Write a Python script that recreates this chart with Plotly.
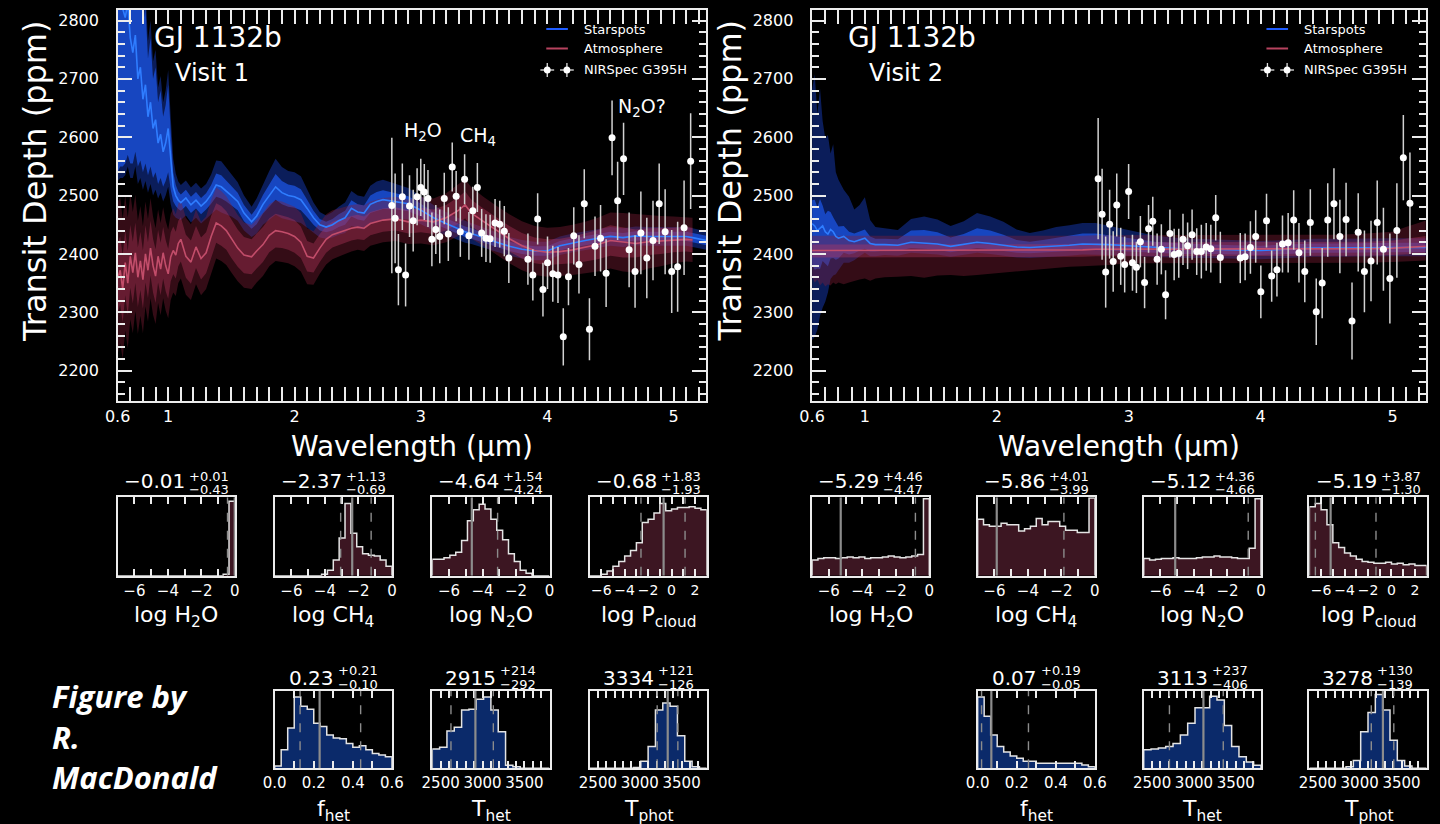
import plotly.graph_objects as go

W, H = 1440, 824
FONT = "DejaVu Sans"
WHITE = "#ececec"

# ---------------- NIRSpec G395H transmission spectra ----------------
WL_V1 = [2.770, 2.796, 2.822, 2.853, 2.879, 2.910, 2.939, 2.970, 2.999, 3.027,
         3.056, 3.087, 3.118, 3.149, 3.185, 3.217, 3.248, 3.279, 3.312, 3.346,
         3.380, 3.411, 3.447, 3.481, 3.515, 3.548, 3.587, 3.624, 3.660, 3.696,
         3.847, 3.886, 3.924, 3.966, 4.002, 4.044, 4.085, 4.127, 4.168, 4.210,
         4.251, 4.293, 4.334, 4.378, 4.422, 4.466, 4.513, 4.557, 4.604, 4.648,
         4.695, 4.741, 4.788, 4.837, 4.886, 4.933, 4.985, 5.032, 5.083, 5.135]
DEPTH_V1 = [2483, 2461, 2373, 2498, 2364, 2482, 2457, 2498, 2514, 2506,
            2495, 2425, 2442, 2430, 2495, 2434, 2549, 2499, 2438, 2528,
            2431, 2474, 2514, 2436, 2427, 2426, 2453, 2451, 2439, 2393,
            2391, 2364, 2460, 2339, 2385, 2366, 2364, 2258, 2361, 2431,
            2382, 2486, 2271, 2413, 2427, 2367, 2599, 2491, 2563, 2407,
            2370, 2436, 2393, 2423, 2486, 2438, 2370, 2378, 2445, 2559]
ERR_V1 = [116, 77, 61, 57, 54, 53, 53, 49, 49, 48,
          49, 46, 42, 46, 44, 46, 42, 43, 43, 43,
          41, 41, 42, 41, 41, 41, 41, 40, 43, 43,
          44, 44, 44, 46, 45, 48, 48, 49, 49, 49,
          50, 59, 53, 51, 57, 58, 64, 67, 62, 64,
          62, 71, 69, 68, 69, 73, 71, 77, 81, 82]

WL_V2 = [2.768, 2.798, 2.825, 2.855, 2.882, 2.909, 2.939, 2.969, 2.999, 3.028,
         3.058, 3.088, 3.120, 3.150, 3.182, 3.215, 3.247, 3.279, 3.312, 3.344,
         3.379, 3.411, 3.446, 3.480, 3.515, 3.550, 3.587, 3.622, 3.659, 3.694,
         3.845, 3.882, 3.922, 3.962, 4.001, 4.044, 4.083, 4.123, 4.165, 4.208,
         4.250, 4.290, 4.334, 4.376, 4.421, 4.466, 4.508, 4.555, 4.600, 4.647,
         4.692, 4.739, 4.786, 4.836, 4.883, 4.930, 4.979, 5.032, 5.081, 5.131]
DEPTH_V2 = [2529, 2468, 2369, 2451, 2387, 2484, 2396, 2382, 2507, 2385,
            2377, 2421, 2351, 2443, 2456, 2391, 2408, 2330, 2435, 2399,
            2401, 2425, 2414, 2433, 2404, 2404, 2412, 2409, 2462, 2394,
            2393, 2395, 2411, 2430, 2335, 2457, 2362, 2373, 2417, 2419,
            2458, 2402, 2370, 2454, 2301, 2350, 2458, 2486, 2430, 2459,
            2285, 2437, 2370, 2388, 2454, 2408, 2358, 2440, 2565, 2487]
ERR_V2 = [104, 78, 61, 59, 52, 54, 49, 48, 47, 48,
          44, 44, 44, 41, 42, 44, 43, 42, 41, 44,
          42, 44, 40, 43, 40, 46, 41, 41, 39, 44,
          43, 40, 45, 45, 45, 46, 44, 46, 49, 51,
          51, 51, 53, 57, 57, 60, 63, 61, 63, 63,
          66, 67, 70, 69, 72, 71, 77, 81, 73, 87]

# ---------------- retrieved model spectra: visit 1 ----------------
MODEL_WL_V1 = [0.60, 0.62, 0.64, 0.66, 0.68, 0.70, 0.72, 0.74, 0.76, 0.78,
               0.80, 0.82, 0.84, 0.86, 0.88, 0.90, 0.92, 0.94, 0.96, 0.98,
               1.00, 1.02, 1.04, 1.06, 1.08, 1.10, 1.14, 1.18, 1.22, 1.26,
               1.30, 1.34, 1.38, 1.42, 1.46, 1.50, 1.55, 1.60, 1.66, 1.70,
               1.75, 1.80, 1.85, 1.90, 1.95, 2.00, 2.05, 2.10, 2.15, 2.20,
               2.25, 2.30, 2.35, 2.40, 2.45, 2.50, 2.55, 2.60, 2.65, 2.70,
               2.80, 2.90, 3.00, 3.10, 3.20, 3.30, 3.35, 3.40, 3.50, 3.60,
               3.70, 3.80, 3.90, 4.00, 4.10, 4.20, 4.30, 4.40, 4.50, 4.60,
               4.70, 4.80, 4.90, 5.00, 5.10, 5.15, 5.20, 5.26]
SPOT_MED_V1 = [2870, 2850, 2820, 2805, 2830, 2770, 2745, 2775, 2700, 2720,
               2665, 2690, 2635, 2660, 2615, 2630, 2590, 2605, 2575, 2590,
               2615, 2560, 2515, 2500, 2492, 2488, 2496, 2484, 2492, 2482,
               2490, 2502, 2518, 2515, 2508, 2500, 2490, 2470, 2455, 2465,
               2485, 2500, 2515, 2505, 2500, 2498, 2493, 2478, 2462, 2450,
               2446, 2450, 2457, 2462, 2478, 2472, 2470, 2485, 2490, 2493,
               2490, 2486, 2475, 2462, 2452, 2442, 2438, 2435, 2427, 2420,
               2413, 2408, 2405, 2405, 2414, 2419, 2423, 2427, 2430, 2428,
               2431, 2430, 2430, 2431, 2430, 2428, 2426, 2423]
SPOT_S1_V1 = [330, 300, 270, 250, 260, 215, 190, 200, 150, 160,
              125, 135, 100, 110, 85, 90, 70, 75, 60, 65,
              75, 50, 25, 18, 15, 14, 14, 14, 14, 14,
              14, 16, 20, 20, 18, 16, 15, 14, 12, 14,
              16, 19, 22, 20, 19, 19, 18, 15, 12, 10,
              9, 10, 11, 12, 14, 13, 13, 15, 16, 16,
              14, 13, 11, 10, 9, 9, 9, 9, 8, 8,
              8, 8, 8, 8, 8, 8, 8, 8, 8, 8,
              8, 8, 8, 8, 8, 8, 8, 8]
SPOT_S2_V1 = [345, 320, 290, 270, 280, 240, 215, 225, 180, 190,
              155, 165, 130, 140, 115, 120, 95, 100, 85, 90,
              100, 75, 48, 38, 32, 30, 30, 30, 30, 30,
              30, 34, 42, 44, 40, 36, 33, 30, 26, 30,
              35, 42, 48, 44, 42, 42, 40, 33, 26, 22,
              20, 22, 24, 26, 30, 28, 28, 32, 34, 34,
              30, 27, 24, 22, 20, 19, 19, 18, 17, 17,
              16, 16, 16, 16, 16, 16, 16, 16, 16, 16,
              16, 16, 16, 16, 16, 16, 16, 16]
# atmosphere model ends at 5.15 um
ATM_MED_V1 = [2358, 2372, 2340, 2385, 2350, 2396, 2368, 2402, 2360, 2388,
              2356, 2400, 2372, 2410, 2380, 2362, 2396, 2374, 2402, 2380,
              2366, 2395, 2406, 2398, 2418, 2425, 2396, 2386, 2412, 2392,
              2402, 2430, 2453, 2448, 2440, 2426, 2410, 2398, 2395, 2405,
              2416, 2432, 2440, 2438, 2435, 2430, 2420, 2396, 2393, 2410,
              2425, 2433, 2437, 2440, 2444, 2446, 2444, 2452, 2455, 2458,
              2460, 2455, 2458, 2455, 2462, 2475, 2484, 2470, 2455, 2440,
              2426, 2414, 2406, 2403, 2404, 2407, 2411, 2416, 2423, 2420,
              2418, 2421, 2422, 2424, 2425, 2424]
ATM_S1_V1 = [60, 58, 57, 56, 55, 54, 53, 52, 51, 50,
             50, 49, 48, 47, 46, 46, 45, 45, 44, 44,
             43, 42, 41, 40, 39, 38, 37, 37, 36, 36,
             35, 35, 34, 34, 33, 33, 32, 31, 30, 30,
             30, 29, 29, 28, 28, 28, 27, 26, 25, 24,
             23, 22, 22, 21, 21, 21, 20, 20, 20, 20,
             20, 20, 21, 21, 22, 23, 23, 23, 22, 22,
             22, 22, 22, 22, 22, 23, 24, 25, 26, 26,
             24, 23, 22, 21, 21, 21]
ATM_S2_V1 = [130, 125, 120, 116, 112, 108, 104, 100, 97, 94,
             92, 90, 88, 86, 84, 82, 80, 79, 78, 77,
             76, 74, 72, 70, 68, 67, 66, 65, 64, 63,
             62, 62, 61, 60, 59, 58, 57, 56, 55, 54,
             54, 53, 52, 52, 51, 51, 50, 48, 46, 44,
             43, 42, 41, 40, 40, 39, 39, 38, 38, 38,
             38, 38, 40, 40, 42, 44, 44, 44, 42, 42,
             42, 42, 42, 42, 42, 43, 44, 46, 48, 50,
             50, 46, 43, 40, 38, 38]

# ---------------- retrieved model spectra: visit 2 ----------------
MODEL_WL_V2 = [0.60, 0.62, 0.64, 0.66, 0.68, 0.70, 0.72, 0.74, 0.76, 0.78,
               0.80, 0.84, 0.88, 0.92, 0.96, 1.00, 1.04, 1.08, 1.15, 1.25,
               1.35, 1.45, 1.55, 1.65, 1.75, 1.85, 1.95, 2.05, 2.15, 2.25,
               2.35, 2.45, 2.55, 2.65, 2.75, 2.85, 3.00, 3.20, 3.40, 3.60,
               3.80, 4.00, 4.20, 4.40, 4.60, 4.80, 5.00, 5.10, 5.26]
SPOT_MED_V2 = [2452, 2448, 2440, 2444, 2448, 2438, 2434, 2442, 2438, 2430,
               2427, 2430, 2423, 2421, 2424, 2427, 2418, 2416, 2416, 2415,
               2420, 2419, 2417, 2413, 2416, 2420, 2418, 2415, 2412, 2411,
               2412, 2414, 2415, 2417, 2417, 2416, 2414, 2411, 2409, 2408,
               2407, 2406, 2408, 2410, 2410, 2411, 2411, 2411, 2411]
SPOT_UP1_V2 = [40, 45, 40, 50, 35, 30, 40, 30, 25, 25,
               20, 18, 15, 14, 14, 15, 12, 10, 10, 10,
               20, 22, 20, 15, 18, 24, 22, 18, 12, 10,
               12, 14, 16, 18, 18, 16, 13, 10, 9, 8,
               8, 8, 8, 8, 8, 8, 8, 8, 8]
SPOT_DN1_V2 = [70, 75, 65, 70, 60, 55, 55, 50, 45, 40,
               35, 28, 24, 20, 18, 18, 14, 12, 10, 10,
               10, 10, 10, 10, 10, 10, 10, 10, 10, 10,
               10, 10, 10, 10, 10, 10, 10, 9, 9, 8,
               8, 8, 8, 8, 8, 8, 8, 8, 8]
SPOT_UP2_V2 = [230, 260, 200, 240, 180, 160, 170, 130, 150, 110,
               100, 80, 75, 55, 60, 70, 40, 30, 28, 26,
               40, 45, 42, 35, 40, 50, 46, 40, 30, 25,
               28, 32, 34, 36, 36, 32, 26, 20, 18, 17,
               16, 16, 16, 16, 16, 16, 16, 16, 16]
SPOT_DN2_V2 = [200, 190, 170, 150, 140, 120, 100, 85, 75, 65,
               55, 45, 38, 32, 28, 25, 22, 20, 18, 18,
               18, 18, 18, 18, 18, 18, 18, 18, 18, 18,
               18, 18, 18, 18, 18, 18, 17, 16, 16, 15,
               15, 15, 15, 15, 15, 15, 15, 15, 15]
ATM_MED_V2 = [2406, 2406, 2406, 2406, 2406, 2406, 2406, 2406, 2406, 2406,
              2406, 2406, 2406, 2406, 2406, 2406, 2406, 2406, 2406, 2406,
              2406, 2406, 2406, 2406, 2406, 2406, 2406, 2406, 2406, 2407,
              2407, 2407, 2407, 2407, 2408, 2408, 2408, 2408, 2408, 2408,
              2408, 2408, 2408, 2408, 2408, 2409, 2410, 2411, 2413]
ATM_UP1_V2 = [10, 10, 10, 10, 10, 10, 10, 10, 10, 10,
              10, 10, 10, 10, 10, 10, 10, 10, 10, 10,
              10, 10, 10, 10, 10, 10, 10, 10, 10, 10,
              10, 10, 10, 10, 10, 10, 12, 12, 12, 12,
              12, 12, 12, 12, 12, 12, 13, 15, 18]
ATM_DN1_V2 = [12, 12, 12, 12, 12, 12, 12, 12, 12, 12,
              12, 12, 12, 12, 12, 12, 12, 12, 12, 12,
              12, 12, 12, 12, 12, 12, 12, 12, 12, 12,
              12, 12, 12, 12, 12, 12, 12, 12, 12, 12,
              12, 12, 12, 12, 12, 12, 12, 12, 12]
ATM_UP2_V2 = [25, 25, 25, 25, 25, 25, 25, 25, 25, 25,
              25, 24, 24, 24, 24, 24, 24, 24, 24, 24,
              24, 24, 24, 24, 24, 24, 24, 24, 24, 24,
              24, 24, 24, 24, 24, 24, 25, 25, 25, 25,
              25, 25, 25, 25, 25, 26, 28, 35, 45]
ATM_DN2_V2 = [45, 55, 50, 60, 55, 62, 58, 60, 55, 58,
              55, 58, 55, 52, 50, 48, 52, 48, 46, 45,
              44, 47, 43, 42, 44, 42, 40, 38, 36, 34,
              32, 30, 29, 28, 28, 27, 24, 24, 24, 24,
              24, 24, 24, 24, 24, 24, 24, 24, 24]

# ---------------- posterior histograms (normalised heights) ----------------
LOG_RANGE = (-7.0, 0.0)
PCLOUD_RANGE = (-7.0, 3.0)
FHET_RANGE = (0.0, 0.6)
TEMP_RANGE = (2400.0, 3800.0)

H2O_V1 = [0, 0, 0, 0, 0, 0, 0, 0, 0, 0, 0, 0, 0, 0, 0, 0, 0, 0, 0.02, 0.95]
CH4_V1 = [0, 0, 0, 0, 0, 0, 0, 0, 0.02, 0.07, 0.20, 0.48, 0.92, 0.54, 0.37,
          0.28, 0.26, 0.25, 0.20, 0.12]
N2O_V1 = [0.21, 0.21, 0.23, 0.26, 0.30, 0.45, 0.70, 0.84, 0.91, 0.85, 0.72,
          0.58, 0.46, 0.28, 0.18, 0.07, 0.03, 0, 0, 0]
PCLOUD_V1 = [0, 0, 0.02, 0.06, 0.12, 0.18, 0.25, 0.32, 0.42, 0.68, 0.72, 0.80,
             0.92, 0.83, 0.85, 0.87, 0.87, 0.88, 0.86, 0.84]
FHET_V1 = [0.03, 0.24, 0.52, 0.92, 0.80, 0.76, 0.58, 0.54, 0.43, 0.39, 0.38,
           0.32, 0.27, 0.29, 0.24, 0.19, 0.17, 0.15]
THET_V1 = [0.25, 0.27, 0.48, 0.53, 0.75, 0.76, 0.89, 0.92, 0.75, 0.47, 0.04,
           0.02, 0, 0, 0, 0]
TPHOT_V1 = [0, 0, 0, 0, 0, 0, 0.01, 0.09, 0.28, 0.75, 0.84, 0.80, 0.42, 0.09,
            0.02, 0]

H2O_V2 = [0.20, 0.22, 0.23, 0.23, 0.22, 0.23, 0.24, 0.23, 0.24, 0.22, 0.23,
          0.23, 0.24, 0.25, 0.24, 0.23, 0.24, 0.25, 0.27, 0.98]
CH4_V2 = [0.72, 0.65, 0.63, 0.63, 0.67, 0.65, 0.65, 0.57, 0.60, 0.63, 0.73,
          0.65, 0.69, 0.69, 0.63, 0.58, 0.58, 0.55, 0.55, 0.99]
N2O_V2 = [0.22, 0.20, 0.21, 0.22, 0.22, 0.23, 0.22, 0.22, 0.22, 0.23, 0.24,
          0.24, 0.25, 0.24, 0.24, 0.23, 0.22, 0.22, 0.35, 0.98]
PCLOUD_V2 = [0.88, 0.92, 0.84, 0.65, 0.42, 0.36, 0.29, 0.25, 0.21, 0.18, 0.17,
             0.16, 0.16, 0.17, 0.15, 0.16, 0.14, 0.15, 0.13, 0.13]
FHET_V2 = [0.92, 0.67, 0.43, 0.28, 0.21, 0.16, 0.13, 0.09, 0.09, 0.064, 0.064,
           0.064, 0.064, 0.064, 0.064, 0.064, 0.043, 0.02]
THET_V2 = [0.24, 0.25, 0.26, 0.28, 0.32, 0.43, 0.58, 0.78, 0.78, 0.93, 0.88,
           0.55, 0.28, 0.15, 0.08, 0.04]
TPHOT_V2 = [0, 0, 0, 0, 0, 0.02, 0.10, 0.47, 0.72, 0.95, 0.75, 0.36, 0.10,
            0.03, 0, 0]

# (median, +err, -err) labels of each posterior
STATS_V1 = {
    "h2o": ("−0.01", "+0.01", "−0.43"), "ch4": ("−2.37", "+1.13", "−0.69"),
    "n2o": ("−4.64", "+1.54", "−4.24"), "pcloud": ("−0.68", "+1.83", "−1.93"),
    "fhet": ("0.23", "+0.21", "−0.10"), "thet": ("2915", "+214", "−292"),
    "tphot": ("3334", "+121", "−126"),
}
STATS_V2 = {
    "h2o": ("−5.29", "+4.46", "−4.47"), "ch4": ("−5.86", "+4.01", "−3.99"),
    "n2o": ("−5.12", "+4.36", "−4.66"), "pcloud": ("−5.19", "+3.87", "−1.30"),
    "fhet": ("0.07", "+0.19", "−0.05"), "thet": ("3113", "+237", "−406"),
    "tphot": ("3278", "+130", "−139"),
}

PARAM_TITLES = {
    "h2o": "log H<sub>2</sub>O", "ch4": "log CH<sub>4</sub>",
    "n2o": "log N<sub>2</sub>O", "pcloud": "log P<sub>cloud</sub>",
    "fhet": "f<sub>het</sub>", "thet": "T<sub>het</sub>",
    "tphot": "T<sub>phot</sub>",
}

# ---------------- styling ----------------
SPOT_2S = "rgba(25,65,200,0.45)"
SPOT_1S = "rgba(30,95,255,0.62)"
ATM_2S = "rgba(130,30,55,0.40)"
ATM_1S = "rgba(185,55,95,0.38)"
SPOT_LINE = "#2f7dff"
ATM_LINE = "#c24d6a"
ATM_HIST = "#3c1622"
SPOT_HIST = "#0b2a6a"


def px(x):
    return x / W


def py(y):
    return 1 - y / H


def num(s):
    return float(s.replace("−", "-"))


fig = go.Figure()
layout = dict(
    width=W, height=H, margin=dict(l=0, r=0, t=0, b=0),
    paper_bgcolor="black", plot_bgcolor="black", showlegend=False,
    font=dict(family=FONT, color="white"),
)
annotations = []
shapes = []


def axis_base(size=16):
    return dict(
        showline=True, linecolor=WHITE, linewidth=2, mirror="allticks",
        ticks="inside", tickcolor=WHITE, tickwidth=1.5, showgrid=False,
        zeroline=False, tickangle=0,
        tickfont=dict(family=FONT, size=size, color="white"),
    )


# ---------------- main spectrum panels ----------------
MAIN_BOX = {1: (106.5, 705.7), 2: (813.2, 1437.6)}
MAIN_TOP, MAIN_BOT = 10, 401
Y_RANGE = [2148, 2818]


def add_band(xa, ya, x, lo, hi, color):
    fig.add_trace(go.Scatter(x=x, y=lo, mode="lines", line=dict(width=0),
                             hoverinfo="skip", xaxis=xa, yaxis=ya))
    fig.add_trace(go.Scatter(x=x, y=hi, mode="lines", line=dict(width=0),
                             fill="tonexty", fillcolor=color, hoverinfo="skip",
                             xaxis=xa, yaxis=ya))


for v in (1, 2):
    xa = "x" if v == 1 else "x2"
    ya = "y" if v == 1 else "y2"
    x0, x1 = MAIN_BOX[v]
    xr = [0.6, 5.26] if v == 1 else [0.6, 5.25]
    xax = axis_base(16)
    xax.update(domain=[px(x0), px(x1)], range=xr, anchor=ya,
               tickmode="array", tickvals=[0.6, 1, 2, 3, 4, 5],
               ticktext=["0.6", "1", "2", "3", "4", "5"], ticklen=14,
               minor=dict(ticks="inside", ticklen=7, tickwidth=1.5,
                          tickcolor=WHITE, tickmode="array",
                          tickvals=[round(0.7 + 0.1 * i, 2) for i in range(46)]))
    # frame + ticks; the labels are carried by a free axis set slightly apart
    yax = axis_base(16)
    yax.update(domain=[py(MAIN_BOT), py(MAIN_TOP)], range=Y_RANGE, anchor=xa,
               tickmode="linear", tick0=2200, dtick=100, ticklen=14,
               showticklabels=False,
               minor=dict(ticks="inside", ticklen=7, tickwidth=1.5,
                          tickcolor=WHITE, tickmode="linear", tick0=2200,
                          dtick=20))
    label_id = 17 if v == 1 else 18
    ylab = dict(domain=[py(MAIN_BOT), py(MAIN_TOP)], range=Y_RANGE,
                overlaying=ya, anchor="free", position=px(x0 - 19),
                side="left", showline=False, ticks="", showgrid=False,
                zeroline=False, tickmode="linear", tick0=2200, dtick=100,
                tickfont=dict(family=FONT, size=16, color="white"))
    layout["xaxis" if v == 1 else "xaxis2"] = xax
    layout["yaxis" if v == 1 else "yaxis2"] = yax
    layout[f"yaxis{label_id}"] = ylab
    # empty trace so the label axis is rendered
    fig.add_trace(go.Scatter(x=[], y=[], mode="lines", hoverinfo="skip",
                             xaxis=xa, yaxis=f"y{label_id}"))

    if v == 1:
        wl = MODEL_WL_V1
        add_band(xa, ya, wl, [m - s for m, s in zip(SPOT_MED_V1, SPOT_S2_V1)],
                 [m + s for m, s in zip(SPOT_MED_V1, SPOT_S2_V1)], SPOT_2S)
        add_band(xa, ya, wl, [m - s for m, s in zip(SPOT_MED_V1, SPOT_S1_V1)],
                 [m + s for m, s in zip(SPOT_MED_V1, SPOT_S1_V1)], SPOT_1S)
        wla = wl[:len(ATM_MED_V1)]
        add_band(xa, ya, wla, [m - s for m, s in zip(ATM_MED_V1, ATM_S2_V1)],
                 [m + s for m, s in zip(ATM_MED_V1, ATM_S2_V1)], ATM_2S)
        add_band(xa, ya, wla, [m - s for m, s in zip(ATM_MED_V1, ATM_S1_V1)],
                 [m + s for m, s in zip(ATM_MED_V1, ATM_S1_V1)], ATM_1S)
        fig.add_trace(go.Scatter(x=wl, y=SPOT_MED_V1, mode="lines",
                                 line=dict(color=SPOT_LINE, width=1.6),
                                 xaxis=xa, yaxis=ya))
        fig.add_trace(go.Scatter(x=wla, y=ATM_MED_V1, mode="lines",
                                 line=dict(color=ATM_LINE, width=1.6),
                                 xaxis=xa, yaxis=ya))
        dwl, dd, de = WL_V1, DEPTH_V1, ERR_V1
    else:
        wl = MODEL_WL_V2
        add_band(xa, ya, wl, [m - s for m, s in zip(SPOT_MED_V2, SPOT_DN2_V2)],
                 [m + s for m, s in zip(SPOT_MED_V2, SPOT_UP2_V2)], SPOT_2S)
        add_band(xa, ya, wl, [m - s for m, s in zip(SPOT_MED_V2, SPOT_DN1_V2)],
                 [m + s for m, s in zip(SPOT_MED_V2, SPOT_UP1_V2)], SPOT_1S)
        add_band(xa, ya, wl, [m - s for m, s in zip(ATM_MED_V2, ATM_DN2_V2)],
                 [m + s for m, s in zip(ATM_MED_V2, ATM_UP2_V2)], ATM_2S)
        add_band(xa, ya, wl, [m - s for m, s in zip(ATM_MED_V2, ATM_DN1_V2)],
                 [m + s for m, s in zip(ATM_MED_V2, ATM_UP1_V2)], ATM_1S)
        fig.add_trace(go.Scatter(x=wl, y=SPOT_MED_V2, mode="lines",
                                 line=dict(color=SPOT_LINE, width=1.6),
                                 xaxis=xa, yaxis=ya))
        fig.add_trace(go.Scatter(x=wl, y=ATM_MED_V2, mode="lines",
                                 line=dict(color=ATM_LINE, width=1.6),
                                 xaxis=xa, yaxis=ya))
        dwl, dd, de = WL_V2, DEPTH_V2, ERR_V2

    fig.add_trace(go.Scatter(
        x=dwl, y=dd, mode="markers",
        marker=dict(color="white", size=7),
        error_y=dict(type="data", array=de, color="#d2d2d2", thickness=1.5,
                     width=0),
        xaxis=xa, yaxis=ya))

    # axis titles
    annotations.append(dict(
        text="Transit Depth (ppm)", x=px(x0 - 84), y=py(181), xref="paper",
        yref="paper", textangle=-90, showarrow=False, xanchor="center",
        yanchor="middle", font=dict(family=FONT, size=32, color="white")))
    annotations.append(dict(
        text="Wavelength (µm)", x=px((x0 + x1) / 2), y=py(446), xref="paper",
        yref="paper", showarrow=False, xanchor="center", yanchor="middle",
        font=dict(family=FONT, size=28, color="white")))
    # planet / visit labels
    annotations.append(dict(
        text="GJ 1132b", x=px(x0 + 35), y=py(38), xref="paper", yref="paper",
        showarrow=False, xanchor="left", yanchor="middle",
        font=dict(family=FONT, size=28, color="white")))
    annotations.append(dict(
        text=f"Visit {v}", x=px(x0 + 56), y=py(73), xref="paper", yref="paper",
        showarrow=False, xanchor="left", yanchor="middle",
        font=dict(family=FONT, size=24, color="white")))

    # legend
    lx = x1 - 163 if v == 1 else x1 - 162
    rows = [29, 48.5, 70]
    shapes.append(dict(type="line", xref="paper", yref="paper",
                       x0=px(lx), x1=px(lx + 22), y0=py(rows[0]), y1=py(rows[0]),
                       line=dict(color="#1f5cff", width=2)))
    shapes.append(dict(type="line", xref="paper", yref="paper",
                       x0=px(lx), x1=px(lx + 22), y0=py(rows[1]), y1=py(rows[1]),
                       line=dict(color="#b7435f", width=2)))
    for mx in (lx + 1, lx + 21):
        shapes.append(dict(type="line", xref="paper", yref="paper",
                           x0=px(mx - 7), x1=px(mx + 7), y0=py(rows[2]),
                           y1=py(rows[2]), line=dict(color="#e0e0e0", width=1.3)))
        shapes.append(dict(type="line", xref="paper", yref="paper",
                           x0=px(mx), x1=px(mx), y0=py(rows[2] - 7),
                           y1=py(rows[2] + 7), line=dict(color="#e0e0e0", width=1.3)))
        shapes.append(dict(type="circle", xref="paper", yref="paper",
                           x0=px(mx - 3.5), x1=px(mx + 3.5), y0=py(rows[2] + 3.5),
                           y1=py(rows[2] - 3.5), fillcolor="white",
                           line=dict(color="white", width=0)))
    for txt, yy in zip(["Starspots", "Atmosphere", "NIRSpec G395H"], rows):
        annotations.append(dict(
            text=txt, x=px(lx + 36), y=py(yy), xref="paper", yref="paper",
            showarrow=False, xanchor="left", yanchor="middle",
            font=dict(family=FONT, size=13, color="white")))

# molecule labels on visit 1
for txt, lx, ly in [("H<sub>2</sub>O", 396, 131), ("CH<sub>4</sub>", 453, 137),
                    ("N<sub>2</sub>O?", 614, 107)]:
    annotations.append(dict(
        text=txt, x=px(lx), y=py(ly), xref="paper", yref="paper",
        showarrow=False, xanchor="left", yanchor="middle",
        font=dict(family=FONT, size=19, color="white")))

# ---------------- posterior histogram panels ----------------
HIST_COLS = {1: [106.5, 266.3, 426.7, 586.7], 2: [813.2, 981.7, 1150.7, 1319.3]}
HIST_W = 119.3
ROWS = {1: (497.3, 575.7), 2: (690.7, 768.3)}

PANELS = [
    ("h2o", 1, 0, LOG_RANGE, H2O_V1, H2O_V2, ATM_HIST),
    ("ch4", 1, 1, LOG_RANGE, CH4_V1, CH4_V2, ATM_HIST),
    ("n2o", 1, 2, LOG_RANGE, N2O_V1, N2O_V2, ATM_HIST),
    ("pcloud", 1, 3, PCLOUD_RANGE, PCLOUD_V1, PCLOUD_V2, ATM_HIST),
    ("fhet", 2, 1, FHET_RANGE, FHET_V1, FHET_V2, SPOT_HIST),
    ("thet", 2, 2, TEMP_RANGE, THET_V1, THET_V2, SPOT_HIST),
    ("tphot", 2, 3, TEMP_RANGE, TPHOT_V1, TPHOT_V2, SPOT_HIST),
]

CHAR_W = {".": 0.318, "−": 0.838, "+": 0.838}


def text_width(s, size):
    return sum(CHAR_W.get(c, 0.636) for c in s) * size


def tick_setup(key):
    """Labelled (major) tick values/texts and unlabelled minor positions."""
    if key in ("h2o", "ch4", "n2o"):
        return [-6, -4, -2, 0], ["−6", "−4", "−2", "0"], [-5, -3, -1]
    if key == "pcloud":
        return ([-6, -4, -2, 0, 2], ["−6", "−4", "−2", "0", "2"],
                [-5, -3, -1, 1])
    if key == "fhet":
        return [0, 0.2, 0.4, 0.6], ["0.0", "0.2", "0.4", "0.6"], [0.1, 0.3, 0.5]
    return ([2500, 3000, 3500], ["2500", "3000", "3500"],
            [t for t in range(2500, 3800, 100) if t % 500])


ax_id = 3
for v, stats in ((1, STATS_V1), (2, STATS_V2)):
    for key, row, col, rng, c1, c2, fillc in PANELS:
        counts = c1 if v == 1 else c2
        xa, ya = f"x{ax_id}", f"y{ax_id}"
        bx0 = HIST_COLS[v][col]
        bx1 = bx0 + HIST_W
        top, bot = ROWS[row]
        vals, text, minor_vals = tick_setup(key)
        xax = axis_base(14 if key == "pcloud" else 15)
        xax.update(domain=[px(bx0), px(bx1)], range=list(rng), anchor=ya,
                   tickmode="array", tickvals=vals, ticktext=text, ticklen=7,
                   minor=dict(ticks="inside", ticklen=7, tickwidth=1.5,
                              tickcolor=WHITE, tickmode="array",
                              tickvals=minor_vals))
        yax = dict(domain=[py(bot), py(top)], range=[0, 1], anchor=xa,
                   showline=True, linecolor=WHITE, linewidth=2, mirror=True,
                   ticks="", showticklabels=False, showgrid=False,
                   zeroline=False)
        layout[f"xaxis{ax_id}"] = xax
        layout[f"yaxis{ax_id}"] = yax

        n = len(counts)
        bw = (rng[1] - rng[0]) / n
        edges = [rng[0] + i * bw for i in range(n + 1)]
        xs = [edges[0]] + edges[:n] + [edges[n], edges[n]]
        ys = [0] + list(counts) + [counts[-1], 0]
        fig.add_trace(go.Scatter(
            x=xs, y=ys, mode="lines",
            line=dict(shape="hv", color="#e4e4e4", width=1.5),
            fill="tozeroy", fillcolor=fillc, hoverinfo="skip",
            xaxis=xa, yaxis=ya))

        med, up, dn = stats[key]
        m = num(med)
        q_lo, q_hi = m + num(dn), m + num(up)
        shapes.append(dict(type="line", xref=xa, yref=ya, x0=m, x1=m, y0=0,
                           y1=1, line=dict(color="#8c8c8c", width=2.2)))
        for q in (q_lo, q_hi):
            if rng[0] <= q <= rng[1]:
                shapes.append(dict(type="line", xref=xa, yref=ya, x0=q, x1=q,
                                   y0=0, y1=1,
                                   line=dict(color="#8c8c8c", width=1.4,
                                             dash="dash")))

        # title: median with asymmetric errors
        cx = (bx0 + bx1) / 2
        mw = text_width(med, 20)
        sw = max(text_width(up, 13), text_width(dn, 13))
        gap = 2
        split = cx - (mw + sw + gap) / 2 + mw
        if row == 1:
            ym, yu, yd = 481, 476.5, 490
        else:
            ym, yu, yd = 677.5, 670.5, 684.5
        annotations.append(dict(
            text=med, x=px(split), y=py(ym), xref="paper", yref="paper",
            showarrow=False, xanchor="right", yanchor="middle", borderpad=0,
            font=dict(family=FONT, size=20, color="white")))
        annotations.append(dict(
            text=up, x=px(split + gap), y=py(yu), xref="paper", yref="paper",
            showarrow=False, xanchor="left", yanchor="middle", borderpad=0,
            font=dict(family=FONT, size=13, color="white")))
        annotations.append(dict(
            text=dn, x=px(split + gap), y=py(yd), xref="paper", yref="paper",
            showarrow=False, xanchor="left", yanchor="middle", borderpad=0,
            font=dict(family=FONT, size=13, color="white")))
        # parameter name
        annotations.append(dict(
            text=PARAM_TITLES[key], x=px(cx), y=py(616 if row == 1 else 810),
            xref="paper", yref="paper", showarrow=False, xanchor="center",
            yanchor="middle", font=dict(family=FONT, size=22, color="white")))
        ax_id += 1

# credit
for txt, yy in (("Figure by", 696), ("R.", 736.5), ("MacDonald", 777)):
    annotations.append(dict(
        text=txt, x=px(38), y=py(yy), xref="paper", yref="paper",
        showarrow=False, xanchor="left", yanchor="middle",
        font=dict(family="Open Sans", size=31, color="white", weight=700,
                  style="italic")))

layout["annotations"] = annotations
layout["shapes"] = shapes
fig.update_layout(**layout)
fig.update_traces(showlegend=False)
fig.write_html("out.html")
